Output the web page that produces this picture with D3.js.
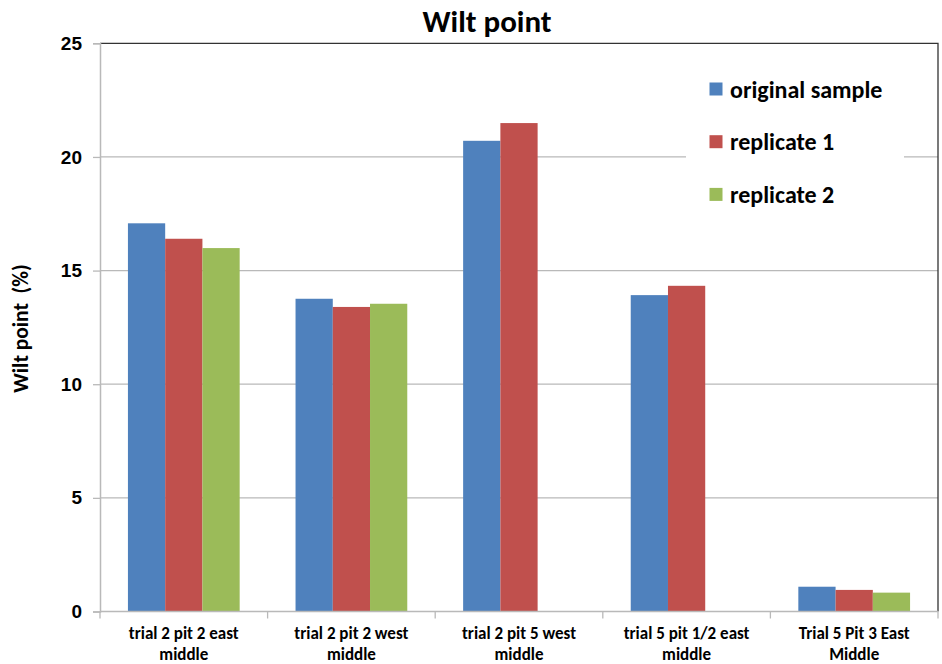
<!DOCTYPE html>
<html>
<head>
<meta charset="utf-8">
<script src="https://cdn.jsdelivr.net/npm/d3@7"></script>
<style>
  html, body { margin: 0; padding: 0; background: #fff; }
  svg { display: block; font-family: Carlito, Calibri, Lato, "Open Sans", "DejaVu Sans", sans-serif; font-weight: bold; }
</style>
</head>
<body>
<svg id="chart" width="942" height="664"></svg>
<script>
// Wilt point (%) per sample location, original sample plus replicates
const categories = [
  ["trial 2 pit 2 east", "middle"],
  ["trial 2 pit 2 west", "middle"],
  ["trial 2 pit 5 west", "middle"],
  ["trial 5 pit 1/2 east", "middle"],
  ["Trial 5 Pit 3 East", "Middle"]
];
const seriesNames = ["original sample", "replicate 1", "replicate 2"];
const seriesColors = ["#4f81bd", "#c0504d", "#9bbb59"];
const originalSample = [17.08, 13.76, 20.71, 13.92, 1.09];
const replicate1 = [16.40, 13.40, 21.49, 14.33, 0.95];
const replicate2 = [15.99, 13.54, null, null, 0.83];
const yTicks = [0, 5, 10, 15, 20, 25];

const seriesValues = [originalSample, replicate1, replicate2];

const svg = d3.select("#chart");
const margin = { left: 100, right: 4, top: 43.3, bottom: 52.5 };
const W = 942, H = 664;
const x0 = margin.left, x1 = W - margin.right;
const yTop = margin.top, yBot = H - margin.bottom;

const x = d3.scaleBand().domain(d3.range(categories.length)).range([x0, x1]).paddingInner(0).paddingOuter(0);
const y = d3.scaleLinear().domain([0, 25]).range([yBot, yTop]);

// Three bars per category, with a gap of 150% of one bar width
const barW = x.bandwidth() / (3 + 1.5);
const xs = d3.scaleBand().domain(d3.range(3)).range([0, barW * 3]);

// Gridlines
svg.append("g")
  .selectAll("line")
  .data(yTicks.filter(t => t > 0 && t < 25))
  .join("line")
  .attr("x1", x0).attr("x2", x1)
  .attr("y1", d => y(d)).attr("y2", d => y(d))
  .attr("stroke", "#b9b9b9").attr("stroke-width", 1.3);

// Plot area border (top and right)
svg.append("path")
  .attr("d", `M${x0},${y(25)}H${x1}V${yBot}`)
  .attr("fill", "none").attr("stroke", "#333").attr("stroke-width", 1.3);

// Bars
const groups = svg.append("g").selectAll("g")
  .data(categories.map((c, i) => i))
  .join("g")
  .attr("transform", i => `translate(${x(i) + (x.bandwidth() - barW * 3) / 2},0)`);

groups.selectAll("rect")
  .data(i => seriesValues.map((s, k) => ({ k, v: s[i] })).filter(d => d.v != null))
  .join("rect")
  .attr("x", d => xs(d.k))
  .attr("width", xs.bandwidth())
  .attr("y", d => y(d.v))
  .attr("height", d => y(0) - y(d.v))
  .attr("fill", d => seriesColors[d.k]);

// Y axis
const yAxis = d3.axisLeft(y).tickValues(yTicks).tickSize(7).tickPadding(11);
const gy = svg.append("g").attr("transform", `translate(${x0},0)`).call(yAxis);
gy.select(".domain").attr("stroke", "#b9b9b9").attr("stroke-width", 1.5);
gy.selectAll(".tick line").attr("stroke", "#b9b9b9").attr("stroke-width", 1.3);
gy.selectAll(".tick text").attr("font-size", 19).attr("font-weight", "bold")
  .attr("fill", "#000").attr("font-family", null);

// X axis: ticks at category boundaries
const gx = svg.append("g").attr("transform", `translate(0,${yBot})`);
gx.append("line").attr("x1", x0).attr("x2", x1).attr("y1", 0).attr("y2", 0)
  .attr("stroke", "#b9b9b9").attr("stroke-width", 1.5);
gx.selectAll("line.tk")
  .data(d3.range(categories.length + 1))
  .join("line").attr("class", "tk")
  .attr("x1", i => i < categories.length ? x(i) : x1)
  .attr("x2", i => i < categories.length ? x(i) : x1)
  .attr("y1", 0).attr("y2", 7)
  .attr("stroke", "#b9b9b9").attr("stroke-width", 1.3);
gx.selectAll("text")
  .data(categories)
  .join("text")
  .attr("text-anchor", "middle")
  .attr("font-size", 17)
  .attr("fill", "#000")
  .each(function (d, i) {
    const t = d3.select(this);
    d.forEach((line, j) => {
      t.append("tspan").attr("x", x(i) + x.bandwidth() / 2).attr("y", 27.5 + j * 20.5).text(line);
    });
  });

// Title
svg.append("text")
  .attr("x", 487).attr("y", 32)
  .attr("text-anchor", "middle")
  .attr("font-size", 31)
  .attr("fill", "#000")
  .text("Wilt point");

// Y axis title
svg.append("text")
  .attr("transform", `translate(28,${(260 + 397) / 2}) rotate(-90)`)
  .attr("text-anchor", "middle")
  .attr("font-size", 21.5)
  .attr("fill", "#000")
  .attr("xml:space", "preserve")
  .text("Wilt point  (%)");

// Legend
const legend = svg.append("g").attr("transform", "translate(686,62)");
legend.append("rect").attr("x", 0).attr("y", 0).attr("width", 218).attr("height", 156).attr("fill", "#fff");
const items = legend.selectAll("g.item")
  .data(seriesNames)
  .join("g").attr("class", "item")
  .attr("transform", (d, i) => `translate(0,${27 + i * 52.7})`);
items.append("rect")
  .attr("x", 23.5).attr("y", -6.5).attr("width", 13).attr("height", 13)
  .attr("fill", (d, i) => seriesColors[i]);
items.append("text")
  .attr("x", 44).attr("y", 8.5)
  .attr("font-size", 24)
  .attr("fill", "#000")
  .text(d => d);
</script>
</body>
</html>
